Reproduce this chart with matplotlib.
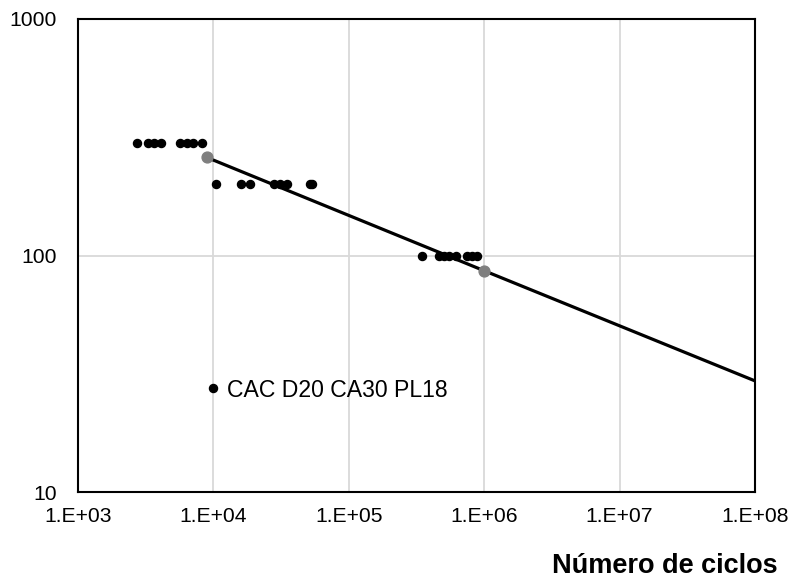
import matplotlib
matplotlib.use("Agg")
import matplotlib.pyplot as plt
import numpy as np


plt.rcParams["font.family"] = ["Liberation Sans", "DejaVu Sans"]

# ensayos (ciclos, tension)
CYCLES = [
    2710, 3300, 3660, 4100, 5660, 6350, 7100, 8200,
    10450, 15900, 18600, 28000, 31000, 35000, 51700, 53500,
    347000, 464000, 505000, 550000, 619000, 746000, 813000, 885000,
]
STRESS = [
    300, 300, 300, 300, 300, 300, 300, 300,
    200, 200, 200, 200, 200, 200, 200, 200,
    100, 100, 100, 100, 100, 100, 100, 100,
]
SERIES_LABEL = "CAC D20 CA30 PL18"

# recta S-N
FIT_X = [8925, 1.0e6, 1.0e8]
FIT_Y = [260, 86.2, 29.5]

X_TICKS = [1e3, 1e4, 1e5, 1e6, 1e7, 1e8]
X_TICK_LABELS = ["1.E+03", "1.E+04", "1.E+05", "1.E+06", "1.E+07", "1.E+08"]
Y_TICKS = [10, 100, 1000]
Y_TICK_LABELS = ["10", "100", "1000"]
X_LABEL = "Número de ciclos"


def main() -> None:
    fig = plt.figure(figsize=(8.05, 5.81), dpi=100)
    ax = fig.add_axes([78 / 805, 1 - 492 / 581, 677 / 805, 473 / 581])

    ax.set_xscale("log")
    ax.set_yscale("log")
    ax.set_xlim(X_TICKS[0], X_TICKS[-1])
    ax.set_ylim(Y_TICKS[0], Y_TICKS[-1])

    ax.plot(FIT_X, FIT_Y, color="black", linewidth=2.3, zorder=3)
    ax.plot(FIT_X[:2], FIT_Y[:2], linestyle="none", marker="o", markersize=7.8,
            color="#7f7f7f", zorder=4)
    ax.plot(CYCLES, STRESS, linestyle="none", marker="o", markersize=5.8,
            color="black", label=SERIES_LABEL, zorder=5)

    ax.set_xticks(X_TICKS)
    ax.set_xticklabels(X_TICK_LABELS)
    ax.set_yticks(Y_TICKS)
    ax.set_yticklabels(Y_TICK_LABELS)
    ax.minorticks_off()
    ax.tick_params(axis="both", length=0, labelsize=15.2, colors="black")
    ax.tick_params(axis="x", pad=11)
    ax.tick_params(axis="y", pad=15)

    ax.grid(True, which="major", color="#d9d9d9", linewidth=1.3)
    ax.set_axisbelow(True)
    for spine in ax.spines.values():
        spine.set_color("black")
        spine.set_linewidth(1.5)

    ax.legend(loc="center left", bbox_to_anchor=(0.190, 0.2156), frameon=False,
              fontsize=16.6, handlelength=0.55, handletextpad=0.35, borderpad=0,
              borderaxespad=0, markerscale=1.0)

    fig.text(778 / 805, 1 - 573 / 581, X_LABEL, ha="right", va="baseline",
             fontsize=19.5, fontweight="bold")

    fig.savefig("out.png", dpi=100)
    plt.close(fig)


if __name__ == "__main__":
    main()
